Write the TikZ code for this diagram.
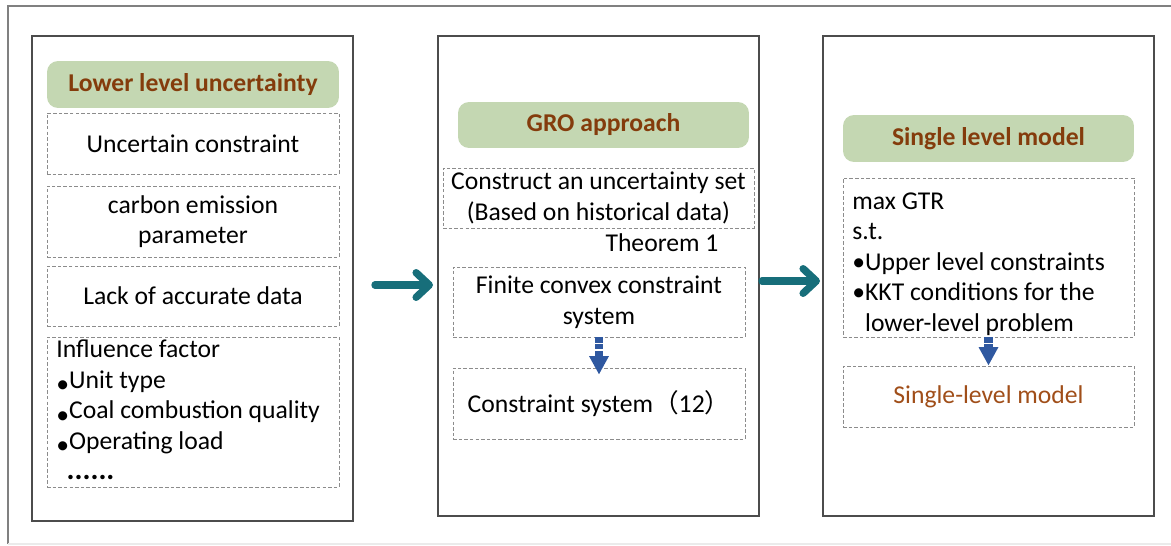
\documentclass[tikz,border=0pt]{standalone}
\usepackage{fontspec}
\setmainfont{Carlito}
\newfontfamily\cjk{Noto Sans CJK SC}
\usetikzlibrary{arrows.meta,positioning}
\definecolor{headgreen}{RGB}{196,215,178}
\definecolor{headbrown}{RGB}{132,60,12}
\definecolor{modelbrown}{RGB}{160,78,25}
\definecolor{flowblue}{RGB}{47,88,160}
\definecolor{flowteal}{RGB}{23,110,122}
\tikzset
{
    panel/.style    = {rectangle, draw=black!70, line width=0.8pt, minimum width=6.42cm, minimum height=9.6cm},
    headbox/.style  = {rectangle, rounded corners=0.22cm, fill=headgreen, text=headbrown, font=\fontsize{14.6}{17.4}\selectfont\bfseries, minimum width=5.84cm, minimum height=0.94cm},
    dbox/.style     = {rectangle, draw=black!45, line width=0.5pt, dash pattern=on 2pt off 1.2pt, align=center, font=\fontsize{14.6}{17.4}\selectfont, minimum width=5.84cm, inner sep=2pt},
    plain/.style    = {align=left, font=\fontsize{14.6}{17.4}\selectfont, inner sep=0pt},
    bigarrow/.style = {line width=4.2pt, draw=flowteal, line cap=round, -{Straight Barb[length=7.5pt, width=14pt, round]}},
    downarrow/.style= {line width=5pt, draw=flowblue, dash pattern=on 3pt off 0.8pt, -{Triangle[length=10.5pt, width=10.5pt]}}
}
\newcommand\lowbul{\raisebox{-0.35ex}{\textbullet}}
\begin{document}
\begin{tikzpicture}[x=0.02cm, y=-0.02cm]
   \useasboundingbox (0,0) rectangle (1171,545);
   % outer frame
   \draw[black!50, line width=1.1pt] (8,544) -- (8,6) -- (1171,6);
   \draw[black!8, line width=0.6pt] (8,544) -- (1171,544);

   \node (lp) [panel, minimum height=9.70cm] at (192.5,278.5) {};
   \node (mp) [panel]                        at (598.5,276)   {};
   \node (rp) [panel, minimum width=6.62cm]  at (988.5,276)   {};

   % lower level
   \node (lh) [headbox] at (193,84.5) {Lower level uncertainty};
   \node (l1) [dbox, minimum height=1.22cm] at (193,143.5) {Uncertain constraint};
   \node (l2) [dbox, minimum height=1.42cm] at (193,221.5) {carbon emission\\parameter};
   \node (l3) [dbox, minimum height=1.20cm] at (193,296)   {Lack of accurate data};
   \node (l4) [dbox, minimum height=3.00cm] at (193,412)   {};
   \node (lf) [plain, anchor=west] at (56,410)
      {Influence factor\\
       \lowbul Unit type\\
       \lowbul Coal combustion quality\\
       \lowbul Operating load\\
       \hspace*{0.4em}{\fontsize{17}{17.4}\selectfont\textbf{......}}};

   % GRO
   \node (mh) [headbox, minimum width=5.82cm, minimum height=0.92cm] at (603.5,125) {GRO approach};
   \node (m1) [dbox, minimum width=6.22cm, minimum height=1.20cm] at (598.5,198) {Construct an uncertainty set\\(Based on historical data)};
   \node (th) [plain] at (662,243) {Theorem 1};
   \node (m2) [dbox, minimum height=1.40cm] at (599,302)   {Finite convex constraint\\system};
   \node (m3) [dbox, minimum height=1.42cm] at (599,403.5) {Constraint system{\cjk （}12{\cjk ）}};

   % single level
   \node (rh) [headbox, minimum width=5.82cm] at (988.5,138.5) {Single level model};
   \node (r1) [dbox, minimum width=5.82cm, minimum height=3.18cm] at (988.5,257.5) {};
   \node (rf) [plain, anchor=west] at (852,264)
      {max GTR\\
       s.t.\\
       \textbullet Upper level constraints\\
       \textbullet KKT conditions for the\\
       \hspace*{0.5em}lower-level problem};
   \node (r2) [dbox, minimum width=5.82cm, minimum height=1.22cm, text=modelbrown] at (988.5,396.5) {Single-level model};

   \coordinate (a1s) at (375,285);
   \coordinate (a1e) at (433,285);
   \coordinate (a2s) at (762,281);
   \coordinate (a2e) at (820,281);

   \path
      (a1s)         edge[bigarrow] (a1e)
      (a2s)         edge[bigarrow] (a2e)
      (m2.south)    edge[downarrow, shorten >=-4pt] (m3.north)
      (r1.south)    edge[downarrow] (r2.north);
\end{tikzpicture}
\end{document}
